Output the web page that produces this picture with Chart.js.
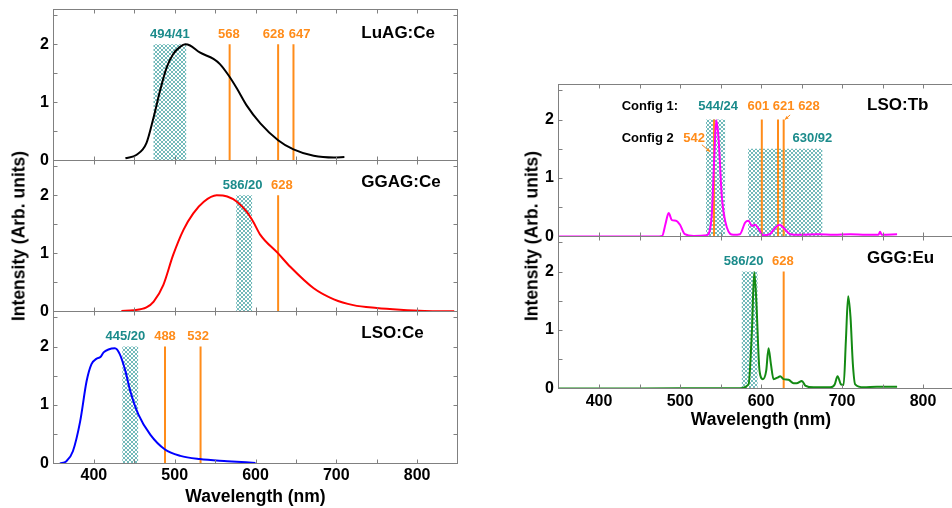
<!DOCTYPE html>
<html>
<head>
<meta charset="utf-8">
<script src="https://cdn.jsdelivr.net/npm/chart.js@4.4.1/dist/chart.umd.min.js"></script>
<style>
    body { margin: 0; width: 952px; height: 508px; overflow: hidden; position: relative; background: #fff; font-family: "Liberation Sans", Arial, sans-serif; }
    canvas { position: absolute; }
    .ytitle { position: absolute; font-weight: bold; font-size: 17.5px; white-space: nowrap; transform: translate(-50%, -50%) rotate(-90deg); }
</style>
</head>
<body>
<canvas id="luag"></canvas>
<canvas id="ggag"></canvas>
<canvas id="lsoce"></canvas>
<canvas id="lsotb"></canvas>
<canvas id="gggeu"></canvas>
<div class="ytitle" style="left:19px;top:236px">Intensity (Arb. units)</div>
<div class="ytitle" style="left:532px;top:236px">Intensity (Arb. units)</div>

<script>
// ---- data (wavelength in nm, intensity in arb. units) ----
const xTickValues = [400, 500, 600, 700, 800];
const yTickValues = [0, 1, 2];
const xMinorTicks = [400, 450, 500, 550, 600, 650, 700, 750, 800];
const yMinorTicks = [0.5, 1, 1.5, 2, 2.5];

const luagWl = [439, 453, 465, 474, 482, 490, 498, 507, 513, 519, 531, 548, 556, 567, 577, 589, 606, 628, 647, 672, 697, 710];
const luagInt = [0.04, 0.1, 0.3, 0.75, 1.21, 1.6, 1.83, 1.96, 2.0, 1.98, 1.86, 1.75, 1.66, 1.46, 1.24, 0.95, 0.64, 0.35, 0.19, 0.08, 0.05, 0.06];
const luagBandCenter = [494];
const luagBandWidth = [41];
const luagBandHeight = [2];
const luagLasers = [568, 628, 647];

const ggagWl = [434, 449, 465, 474, 486, 498, 511, 523, 536, 552, 565, 577, 589, 597, 606, 628, 643, 672, 697, 721, 750, 779, 809, 846];
const ggagInt = [0.01, 0.02, 0.07, 0.17, 0.46, 0.97, 1.41, 1.69, 1.89, 2.0, 1.98, 1.89, 1.72, 1.55, 1.32, 1.0, 0.77, 0.40, 0.21, 0.11, 0.06, 0.03, 0.01, 0.005];
const ggagBandCenter = [586];
const ggagBandWidth = [20];
const ggagBandHeight = [2];
const ggagLasers = [628];

const lsoCeWl = [358, 366, 374, 383, 391, 397, 403, 408, 412, 418, 426, 432, 439, 445, 455, 470, 488, 507, 531, 565, 600];
const lsoCeInt = [0, 0.04, 0.21, 0.72, 1.41, 1.7, 1.79, 1.82, 1.9, 1.95, 1.97, 1.87, 1.58, 1.24, 0.84, 0.49, 0.24, 0.13, 0.075, 0.04, 0.01];
const lsoCeBandCenter = [445];
const lsoCeBandWidth = [20];
const lsoCeBandHeight = [2];
const lsoCeLasers = [488, 532];

const lsoTbWl = [350, 420, 470, 478, 482, 486, 490, 495, 500, 506, 517, 533, 539, 542.5, 544.7, 547.5, 551.7, 558, 566, 574, 580.5, 584.6, 588.8, 592.8, 597, 603, 611, 617.5, 623, 627.8, 636, 648, 670, 690, 710, 730, 745, 747, 749, 768];
const lsoTbInt = [0, 0, 0, 0.01, 0.21, 0.40, 0.28, 0.27, 0.2, 0.04, 0.01, 0.02, 0.33, 1.42, 1.99, 1.7, 0.67, 0.15, 0.03, 0.04, 0.24, 0.27, 0.18, 0.2, 0.13, 0.02, 0.04, 0.15, 0.2, 0.15, 0.04, 0.03, 0.04, 0.03, 0.04, 0.03, 0.03, 0.08, 0.03, 0.04];
const lsoTbBandCenter = [544, 630];
const lsoTbBandWidth = [24, 92];
const lsoTbBandHeight = [2, 1.5];
const lsoTbLasers = [542, 601, 621, 628];

const gggWl = [350, 450, 550, 574, 584.6, 588.8, 591.6, 594, 598.2, 602.3, 606.4, 609.3, 612.2, 615.5, 621, 623.7, 627.8, 634, 640.2, 644, 650.5, 654.6, 665, 685.5, 691, 694.5, 698.7, 702, 704.8, 707.6, 710.5, 713.4, 716.3, 726.6, 743, 768];
const gggInt = [0, 0, 0.005, 0.005, 0.07, 0.99, 1.99, 1.56, 0.3, 0.16, 0.3, 0.69, 0.42, 0.16, 0.19, 0.21, 0.16, 0.15, 0.09, 0.09, 0.13, 0.05, 0.02, 0.02, 0.07, 0.21, 0.07, 0.06, 0.82, 1.58, 1.22, 0.42, 0.07, 0.02, 0.03, 0.03];
const gggBandCenter = [586];
const gggBandWidth = [20];
const gggBandHeight = [2];
const gggLasers = [628];

const LASER_TOP = 2;
const TEAL = '#1b8b8b';
const ORANGE = '#ff8c1a';
const FONT = '"Liberation Sans", Arial, sans-serif';

// diamond cross-hatch used for the filter pass bands
function makeHatch() {
    const c = document.createElement('canvas');
    c.width = 4; c.height = 4;
    const g = c.getContext('2d');
    g.fillStyle = '#ffffff';
    g.fillRect(0, 0, 4, 4);
    g.fillStyle = '#72baba';
    [[0, 0], [3, 0], [1, 1], [2, 1], [1, 2], [2, 2], [0, 3], [3, 3]].forEach(([px, py]) => g.fillRect(px, py, 1, 1));
    return g.createPattern(c, 'repeat');
}
const hatch = makeHatch();

// frame + inward ticks on all four sides
const framePlugin = {
    id: 'frame',
    afterDatasetsDraw(chart) {
        const { ctx, chartArea: a, scales: { x, y } } = chart;
        ctx.save();
        ctx.strokeStyle = '#808080';
        ctx.lineWidth = 1;
        ctx.strokeRect(a.left, a.top, a.right - a.left, a.bottom - a.top);
        ctx.beginPath();
        xMinorTicks.forEach(v => {
            const px = Math.round(x.getPixelForValue(v)) + 0.5;
            ctx.moveTo(px, a.bottom); ctx.lineTo(px, a.bottom - 4);
            ctx.moveTo(px, a.top); ctx.lineTo(px, a.top + 4);
        });
        yMinorTicks.forEach(v => {
            const py = Math.round(y.getPixelForValue(v)) + 0.5;
            ctx.moveTo(a.left, py); ctx.lineTo(a.left + 4, py);
            ctx.moveTo(a.right, py); ctx.lineTo(a.right - 4, py);
        });
        ctx.stroke();
        ctx.restore();
    }
};

function textPlugin(labels, arrows) {
    return {
        id: 'panelText',
        afterDraw(chart) {
            const { ctx, scales: { x, y } } = chart;
            ctx.save();
            labels.forEach(t => {
                ctx.font = 'bold ' + (t.size || 13) + 'px ' + FONT;
                ctx.fillStyle = t.color;
                ctx.textAlign = t.align || 'center';
                ctx.textBaseline = 'middle';
                ctx.fillText(t.text, x.getPixelForValue(t.x), y.getPixelForValue(t.y));
            });
            (arrows || []).forEach(ar => {
                const x0 = x.getPixelForValue(ar.from[0]), y0 = y.getPixelForValue(ar.from[1]);
                const x1 = x.getPixelForValue(ar.to[0]), y1 = y.getPixelForValue(ar.to[1]);
                const ang = Math.atan2(y1 - y0, x1 - x0);
                ctx.strokeStyle = ORANGE;
                ctx.fillStyle = ORANGE;
                ctx.lineWidth = 1;
                ctx.beginPath(); ctx.moveTo(x0, y0); ctx.lineTo(x1, y1); ctx.stroke();
                ctx.beginPath();
                ctx.moveTo(x1, y1);
                ctx.lineTo(x1 - 4 * Math.cos(ang - 0.45), y1 - 4 * Math.sin(ang - 0.45));
                ctx.lineTo(x1 - 4 * Math.cos(ang + 0.45), y1 - 4 * Math.sin(ang + 0.45));
                ctx.closePath(); ctx.fill();
            });
            ctx.restore();
        }
    };
}

function buildPanel(p) {
    const canvas = document.getElementById(p.id);
    canvas.width = p.width;
    canvas.height = p.height;
    canvas.style.left = p.left + 'px';
    canvas.style.top = p.top + 'px';
    canvas.style.width = p.width + 'px';
    canvas.style.height = p.height + 'px';

    const datasets = [];
    p.bandCenter.forEach((c, i) => {
        const lo = c - p.bandWidth[i] / 2;
        const hi = c + p.bandWidth[i] / 2;
        const h = p.bandHeight[i];
        datasets.push({
            data: [{ x: lo, y: 0 }, { x: lo, y: h }, { x: hi, y: h }, { x: hi, y: 0 }],
            backgroundColor: hatch,
            borderColor: 'rgba(0,0,0,0)',
            borderWidth: 0,
            fill: 'origin',
            pointRadius: 0,
            tension: 0,
            order: 3
        });
    });
    p.lasers.forEach(w => {
        datasets.push({
            data: [{ x: w, y: 0 }, { x: w, y: LASER_TOP }],
            borderColor: ORANGE,
            borderWidth: 2,
            fill: false,
            pointRadius: 0,
            order: 2
        });
    });
    datasets.push({
        data: p.wl.map((w, i) => ({ x: w, y: p.val[i] })),
        borderColor: p.color,
        borderWidth: 2,
        fill: false,
        pointRadius: 0,
        cubicInterpolationMode: 'monotone',
        order: 1
    });

    const tickFont = { family: FONT, size: 16, weight: 'bold' };

    return new Chart(canvas, {
        type: 'line',
        data: { datasets: datasets },
        options: {
            responsive: false,
            animation: false,
            devicePixelRatio: 1,
            layout: { padding: p.padding },
            plugins: { legend: { display: false }, tooltip: { enabled: false } },
            scales: {
                x: {
                    type: 'linear',
                    min: 350,
                    max: 850,
                    display: p.showX,
                    afterBuildTicks: s => { s.ticks = xTickValues.map(v => ({ value: v })); },
                    afterFit: s => {
                        s.height = p.xHeight || 0;
                        s.paddingLeft = 0; s.paddingRight = 0;
                    },
                    grid: { display: false, drawTicks: false },
                    border: { display: false },
                    ticks: { color: '#000', font: tickFont, padding: p.xTickPad || 2, maxRotation: 0 },
                    title: {
                        display: p.showX,
                        text: 'Wavelength (nm)',
                        color: '#000',
                        font: { family: FONT, size: 17.5, weight: 'bold' },
                        padding: { top: 0, bottom: p.xTitlePad || 0 }
                    }
                },
                y: {
                    min: 0,
                    max: 2.6,
                    afterBuildTicks: s => { s.ticks = yTickValues.map(v => ({ value: v })); },
                    afterFit: s => {
                        s.width = p.yWidth;
                        // labels are allowed to hang over the plot edges
                        s.paddingTop = 0; s.paddingBottom = 0;
                    },
                    grid: { display: false, drawTicks: false },
                    border: { display: false },
                    ticks: { color: '#000', font: tickFont, padding: 4.5 }
                }
            }
        },
        plugins: [framePlugin, textPlugin(p.labels, p.arrows)]
    });
}

const topPad = { top: 5.5, right: 4.5, bottom: 12.5, left: 0 };

buildPanel({
    id: 'luag', left: 0, top: 4, width: 462, height: 169, padding: topPad, yWidth: 53.5, showX: false,
    wl: luagWl, val: luagInt, color: '#000000',
    bandCenter: luagBandCenter, bandWidth: luagBandWidth, bandHeight: luagBandHeight, lasers: luagLasers,
    labels: [
        { text: '494/41', x: 494, y: 2.17, color: TEAL },
        { text: '568', x: 567, y: 2.17, color: ORANGE },
        { text: '628', x: 622.5, y: 2.17, color: ORANGE },
        { text: '647', x: 654.5, y: 2.17, color: ORANGE },
        { text: 'LuAG:Ce', x: 731, y: 2.19, color: '#000', size: 17, align: 'left' }
    ]
});

buildPanel({
    id: 'ggag', left: 0, top: 155, width: 462, height: 169, padding: topPad, yWidth: 53.5, showX: false,
    wl: ggagWl, val: ggagInt, color: '#ff0000',
    bandCenter: ggagBandCenter, bandWidth: ggagBandWidth, bandHeight: ggagBandHeight, lasers: ggagLasers,
    labels: [
        { text: '586/20', x: 584, y: 2.17, color: TEAL },
        { text: '628', x: 632.5, y: 2.17, color: ORANGE },
        { text: 'GGAG:Ce', x: 731, y: 2.23, color: '#000', size: 17, align: 'left' }
    ]
});

buildPanel({
    id: 'lsoce', left: 0, top: 306, width: 462, height: 203,
    padding: { top: 5.5, right: 4.5, bottom: 0.5, left: 0 }, yWidth: 53.5,
    showX: true, xHeight: 45, xTickPad: 2, xTitlePad: 1,
    wl: lsoCeWl, val: lsoCeInt, color: '#0000ff',
    bandCenter: lsoCeBandCenter, bandWidth: lsoCeBandWidth, bandHeight: lsoCeBandHeight, lasers: lsoCeLasers,
    labels: [
        { text: '445/20', x: 439, y: 2.17, color: TEAL },
        { text: '488', x: 488, y: 2.17, color: ORANGE },
        { text: '532', x: 529, y: 2.17, color: ORANGE },
        { text: 'LSO:Ce', x: 731, y: 2.23, color: '#000', size: 17, align: 'left' }
    ]
});

buildPanel({
    id: 'lsotb', left: 518, top: 79, width: 450, height: 170, padding: topPad, yWidth: 40.5, showX: false,
    wl: lsoTbWl, val: lsoTbInt, color: '#ff00ff',
    bandCenter: lsoTbBandCenter, bandWidth: lsoTbBandWidth, bandHeight: lsoTbBandHeight, lasers: lsoTbLasers,
    labels: [
        { text: 'Config 1:', x: 428, y: 2.22, color: '#000', align: 'left' },
        { text: '544/24', x: 547, y: 2.22, color: TEAL },
        { text: '601 621 628', x: 628, y: 2.22, color: ORANGE },
        { text: 'LSO:Tb', x: 731, y: 2.25, color: '#000', size: 17, align: 'left' },
        { text: 'Config 2', x: 428, y: 1.67, color: '#000', align: 'left' },
        { text: '542', x: 517.5, y: 1.67, color: ORANGE },
        { text: '630/92', x: 663.5, y: 1.67, color: TEAL }
    ],
    arrows: [
        { from: [527, 1.57], to: [537, 1.45] },
        { from: [636, 2.08], to: [629.5, 2.0] }
    ]
});

buildPanel({
    id: 'gggeu', left: 518, top: 231, width: 450, height: 200,
    padding: { top: 5.5, right: 4.5, bottom: 0.5, left: 0 }, yWidth: 40.5,
    showX: true, xHeight: 42, xTickPad: 3.5, xTitlePad: 0,
    wl: gggWl, val: gggInt, color: '#138a13',
    bandCenter: gggBandCenter, bandWidth: gggBandWidth, bandHeight: gggBandHeight, lasers: gggLasers,
    labels: [
        { text: '586/20', x: 578.5, y: 2.17, color: TEAL },
        { text: '628', x: 627, y: 2.17, color: ORANGE },
        { text: 'GGG:Eu', x: 731, y: 2.22, color: '#000', size: 17, align: 'left' }
    ]
});
</script>
</body>
</html>
